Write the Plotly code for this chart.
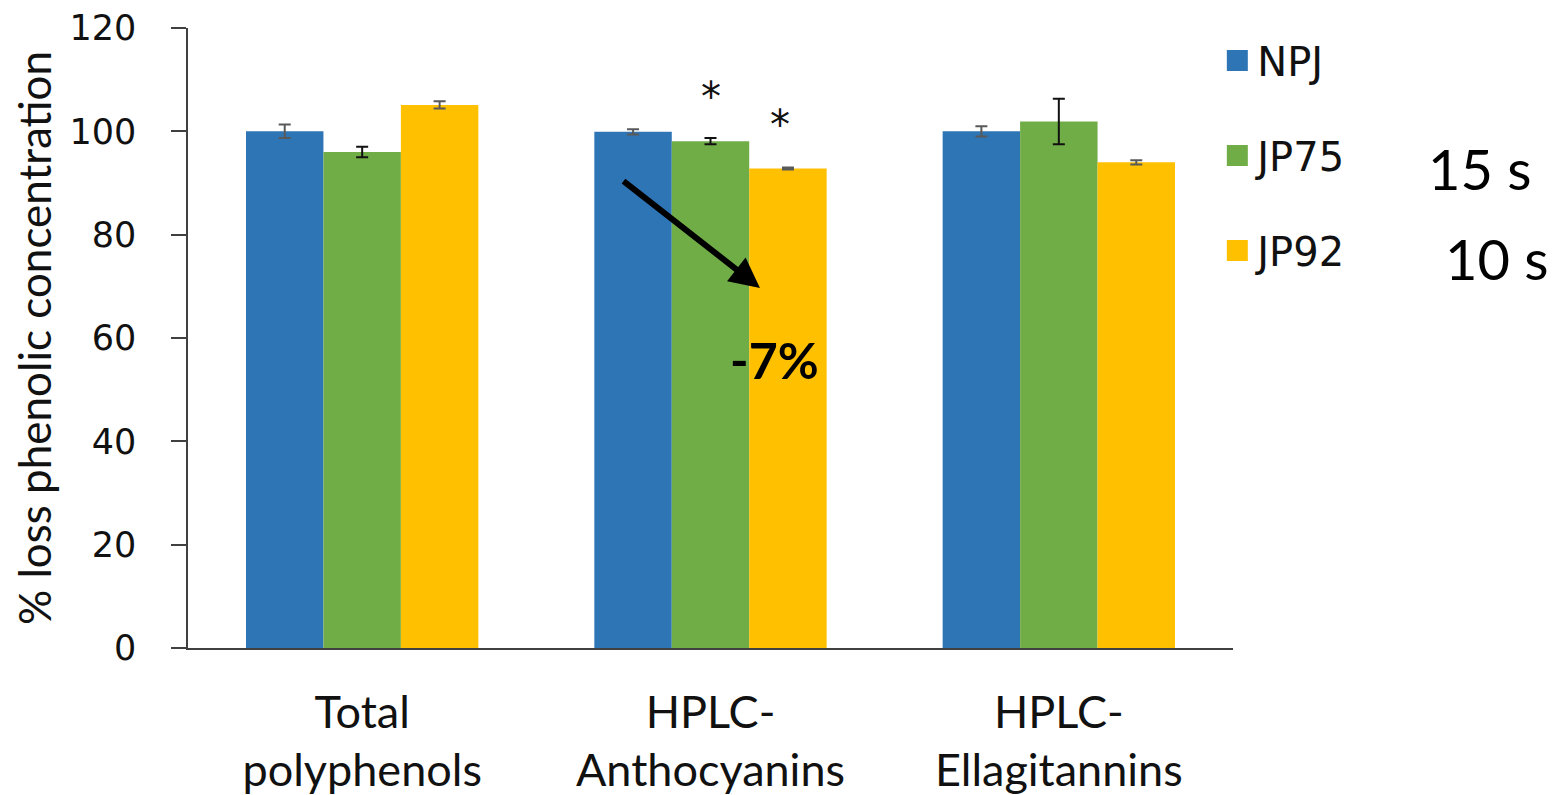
import plotly.graph_objects as go

categories = ["Total<br>polyphenols", "HPLC-<br>Anthocyanins", "HPLC-<br>Ellagitannins"]
series_names = ["NPJ", "JP75", "JP92"]
npj = [100.0, 99.9, 100.0]
jp75 = [96.0, 98.1, 101.9]
jp92 = [105.1, 92.8, 94.0]
npj_err = [1.3, 0.5, 1.0]
jp75_err = [1.0, 0.6, 4.4]
jp92_err = [0.7, 0.2, 0.4]
y_ticks = [0, 20, 40, 60, 80, 100, 120]
side_labels = ["15 s", "10 s"]

colors = ["#2E75B6", "#70AD47", "#FFC000"]
err_colors = ["#595959", "#111111", "#595959"]
values = [npj, jp75, jp92]
errors = [npj_err, jp75_err, jp92_err]

fig = go.Figure()
for name, vals, errs, col, ecol in zip(series_names, values, errors, colors, err_colors):
    fig.add_trace(go.Bar(
        x=categories, y=vals, name=name, marker=dict(color=col, line=dict(width=0)),
        error_y=dict(type="data", array=errs, visible=True, color=ecol, thickness=2, width=6),
        showlegend=False,
    ))
for name, col in zip(series_names, colors):
    fig.add_trace(go.Scatter(
        x=[None], y=[None], mode="markers", name=name, legendgroup=name,
        marker=dict(symbol="square", size=16, color=col, line=dict(color=col, width=5)),
    ))

ff_tick = "DejaVu Sans"
ff_text = "Lato"

fig.update_layout(
    width=1548, height=787,
    margin=dict(l=180, r=323, t=20, b=147, autoexpand=False),
    plot_bgcolor="white", paper_bgcolor="white",
    barmode="group", bargap=0.333, bargroupgap=0,
    showlegend=True,
    legend=dict(x=0.985, y=1.0, xanchor="left", yanchor="top",
                font=dict(family=ff_tick, size=40, color="#111111"),
                tracegroupgap=40, itemsizing="trace", bgcolor="rgba(0,0,0,0)"),
    xaxis=dict(showline=True, linecolor="#404040", linewidth=1.5, ticks="", automargin=False,
               tickfont=dict(family=ff_text, size=45, color="#111111"),
               ticklabelstandoff=24),
    yaxis=dict(range=[0, 120], tickvals=y_ticks, showgrid=False, zeroline=False, automargin=False,
               showline=True, linecolor="#404040", linewidth=1.5,
               ticks="outside", ticklen=15, tickcolor="#404040", tickwidth=1.5,
               tickfont=dict(family=ff_tick, size=35, color="#111111"),
               ticklabelstandoff=28,
               title=dict(text="% loss phenolic concentration",
                          font=dict(family=ff_text, size=44, color="#111111"),
                          standoff=6)),
)

# significance asterisks above JP75 and JP92 anthocyanin bars
fig.add_annotation(x=categories[1], y=jp75[1] + jp75_err[1] + 8.0, text="*", showarrow=False,
                   font=dict(family=ff_tick, size=40, color="#111111"))
fig.add_annotation(x=1.20, y=jp92[1] + jp92_err[1] + 8.2, text="*", showarrow=False,
                   font=dict(family=ff_tick, size=40, color="#111111"))

# arrow and drop label
fig.add_annotation(x=1.142, y=69.7, ax=0.746, ay=90.6, xref="x", yref="y", axref="x", ayref="y",
                   text="", showarrow=True, arrowhead=2, arrowsize=1.0, arrowwidth=6, arrowcolor="#000000")
fig.add_annotation(x=1.185, y=55.7, text="<b>-7%</b>", showarrow=False,
                   font=dict(family=ff_text, size=50, color="#000000"))

# side labels
fig.add_annotation(x=1.236, y=0.774, xref="paper", yref="paper", text=side_labels[0], showarrow=False,
                   xanchor="center", yanchor="middle",
                   font=dict(family=ff_text, size=56, color="#000000"))
fig.add_annotation(x=1.253, y=0.629, xref="paper", yref="paper", text=side_labels[1], showarrow=False,
                   xanchor="center", yanchor="middle",
                   font=dict(family=ff_text, size=56, color="#000000"))

fig.write_html("out.html")
